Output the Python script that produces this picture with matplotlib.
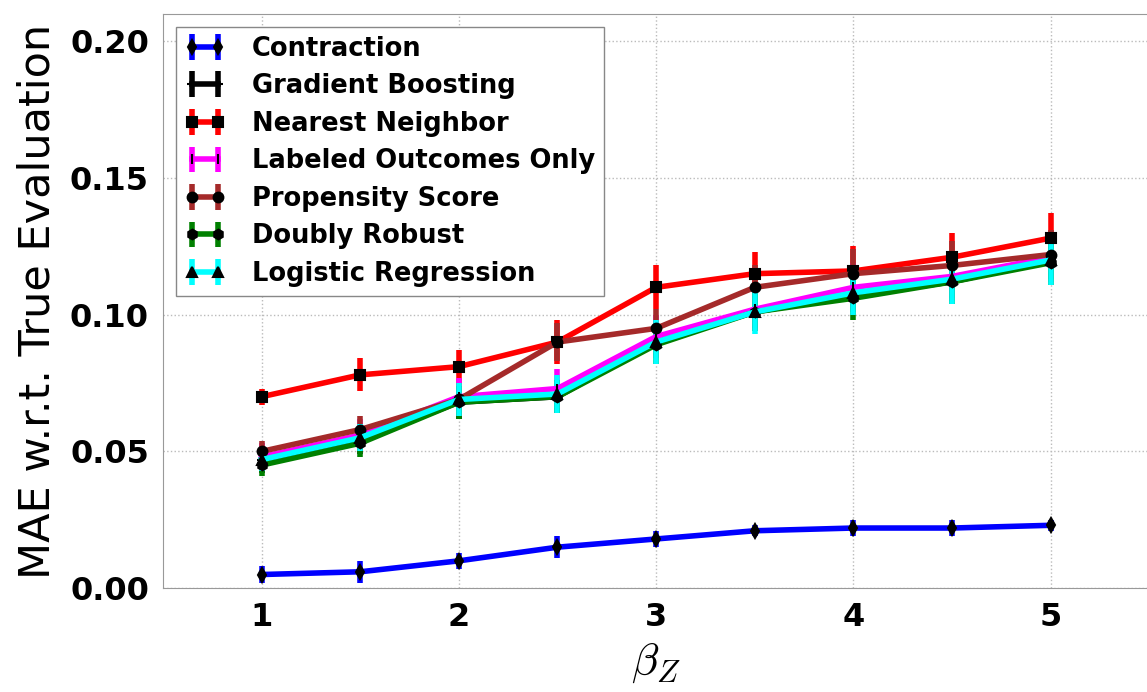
import numpy as np
import matplotlib
matplotlib.use("Agg")
import matplotlib.pyplot as plt

# beta_Z values on the x axis
beta_z = [1.0, 1.5, 2.0, 2.5, 3.0, 3.5, 4.0, 4.5, 5.0]

# mean absolute error per method
contraction = [0.005, 0.006, 0.010, 0.015, 0.018, 0.021, 0.022, 0.022, 0.023]
gradient_boosting = [0.047, 0.054, 0.068, 0.070, 0.090, 0.101, 0.107, 0.112, 0.120]
nearest_neighbor = [0.070, 0.078, 0.081, 0.090, 0.110, 0.115, 0.116, 0.121, 0.128]
labeled_only = [0.048, 0.056, 0.070, 0.073, 0.092, 0.102, 0.110, 0.114, 0.121]
propensity = [0.050, 0.058, 0.069, 0.090, 0.095, 0.110, 0.115, 0.118, 0.122]
doubly_robust = [0.045, 0.053, 0.068, 0.070, 0.089, 0.101, 0.106, 0.112, 0.119]
logistic = [0.047, 0.055, 0.069, 0.071, 0.090, 0.101, 0.108, 0.113, 0.120]

# error bar half-widths
contraction_err = [0.003, 0.004, 0.003, 0.004, 0.003, 0.002, 0.003, 0.003, 0.002]
gradient_boosting_err = [0.005, 0.005, 0.006, 0.006, 0.006, 0.006, 0.006, 0.006, 0.007]
nearest_neighbor_err = [0.003, 0.006, 0.006, 0.008, 0.008, 0.008, 0.009, 0.009, 0.009]
labeled_only_err = [0.005, 0.006, 0.007, 0.007, 0.008, 0.008, 0.009, 0.009, 0.009]
propensity_err = [0.004, 0.005, 0.006, 0.007, 0.007, 0.008, 0.009, 0.009, 0.009]
doubly_robust_err = [0.004, 0.005, 0.006, 0.006, 0.007, 0.007, 0.008, 0.008, 0.008]
logistic_err = [0.004, 0.005, 0.006, 0.007, 0.008, 0.008, 0.008, 0.009, 0.009]

series = [
    ("Contraction", contraction, contraction_err, "blue", "d"),
    ("Gradient Boosting", gradient_boosting, gradient_boosting_err, "black", "+"),
    ("Nearest Neighbor", nearest_neighbor, nearest_neighbor_err, "red", "s"),
    ("Labeled Outcomes Only", labeled_only, labeled_only_err, "magenta", "|"),
    ("Propensity Score", propensity, propensity_err, "brown", "o"),
    ("Doubly Robust", doubly_robust, doubly_robust_err, "green", "h"),
    ("Logistic Regression", logistic, logistic_err, "cyan", "^"),
]

plt.rcParams["mathtext.fontset"] = "cm"

fig = plt.figure(figsize=(11.47, 6.92), dpi=100)
ax = fig.add_axes([0.142, 0.15, 0.86, 0.83])

for name, vals, err, color, marker in series:
    ax.errorbar(beta_z, vals, yerr=err, color=color, ecolor=color,
                elinewidth=4, linewidth=4, marker=marker, markersize=7,
                markerfacecolor="black", markeredgecolor="black",
                markeredgewidth=1.5, capsize=0, label=name)

ax.set_xlim(0.5, 5.5)
ax.set_ylim(0, 0.21)
ax.set_xticks([1, 2, 3, 4, 5])
ax.set_yticks([0.0, 0.05, 0.10, 0.15, 0.20])
ax.set_yticklabels(["0.00", "0.05", "0.10", "0.15", "0.20"])
for lbl in ax.get_xticklabels() + ax.get_yticklabels():
    lbl.set_fontweight("bold")
    lbl.set_fontsize(23)
ax.tick_params(length=0, pad=10)

ax.grid(True, color="#bbbbbb", linestyle=":", linewidth=1)
for sp in ax.spines.values():
    sp.set_color("#999999")
ax.spines["right"].set_visible(False)

ax.set_ylabel("MAE w.r.t. True Evaluation", fontsize=31, labelpad=8)
ax.set_xlabel(r"$\beta_Z$", fontsize=32, labelpad=6)

leg = ax.legend(loc="upper left", prop={"weight": "bold", "size": 18.5},
                numpoints=2, handlelength=1.6, handletextpad=1.0,
                borderpad=0.35, labelspacing=0.45,
                bbox_to_anchor=(0.0, 1.0), fancybox=False, framealpha=1)
leg.get_frame().set_edgecolor("#888888")

fig.savefig("out.png", dpi=100)
